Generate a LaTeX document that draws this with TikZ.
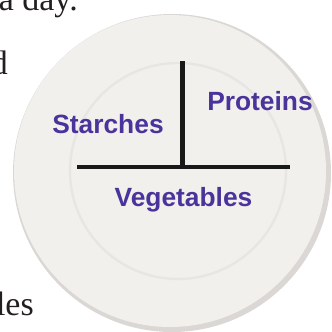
\documentclass[tikz,border=0pt]{standalone}
\usepackage{fontspec}
\setmainfont{Liberation Serif}
\newfontfamily\labelfont{Liberation Sans}
\definecolor{plate}{RGB}{242,240,237}
\definecolor{platerim}{RGB}{218,215,212}
\definecolor{innerrim}{RGB}{232,229,226}
\definecolor{foodtext}{RGB}{74,52,155}
\definecolor{pagetext}{RGB}{35,31,32}
\begin{document}
\begin{tikzpicture}[x=0.03cm,y=-0.03cm,
  food/.style={font=\labelfont\bfseries\fontsize{22.5}{25}\selectfont,text=foodtext,inner sep=0pt,anchor=base},
  page/.style={font=\fontsize{29}{32}\selectfont,text=pagetext,inner sep=0pt,anchor=base east},
  divider/.style={line width=4.2pt,draw=black!90}]
 \useasboundingbox (0,0) rectangle (332,332);
 \clip (0,0) rectangle (332,332);
 % bits of the page text round the plate
 \node[page] (day) at (78,10) {a day.};
 \node[page] (d) at (8,74) {d};
 \node[page] (les) at (34,315) {les};
 % the plate
 \fill[platerim] (172,173) circle (159);
 \fill[plate] (170,171) circle (156);
 \draw[innerrim,line width=2pt] (178,171) circle (108);
 % the dividers
 \coordinate (top) at (182.5,61);
 \coordinate (mid) at (182.5,167);
 \coordinate (left) at (77,167);
 \coordinate (right) at (290,167);
 \draw[divider] (top) -- (mid);
 \draw[divider] (left) -- (right);
 \node[food] (starches) at (108,133) {Starches};
 \node[food] (proteins) at (260,110) {Proteins};
 \node[food] (vegetables) at (183.5,206) {Vegetables};
\end{tikzpicture}
\end{document}
